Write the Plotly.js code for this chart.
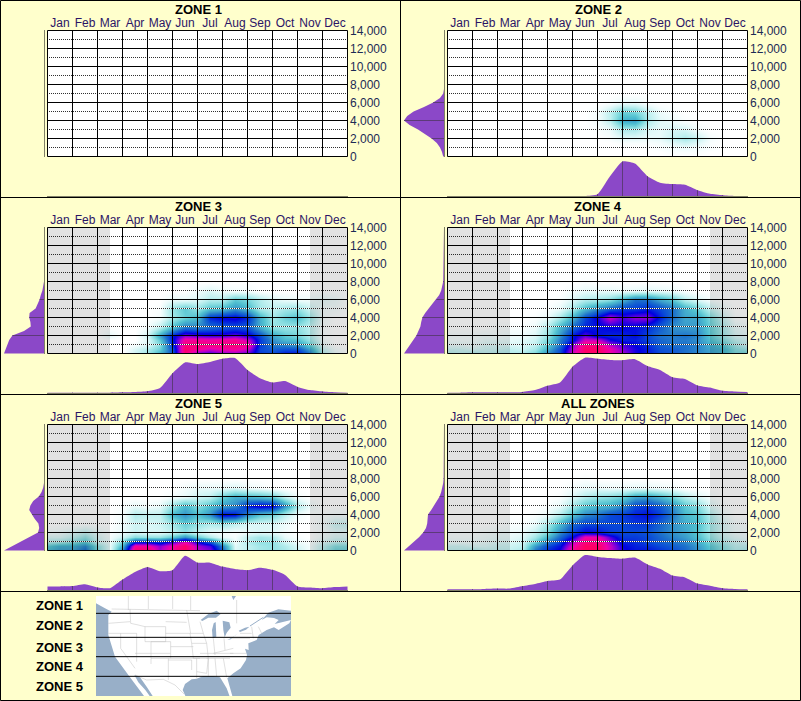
<!DOCTYPE html>
<html><head><meta charset="utf-8">
<script src="https://cdn.plot.ly/plotly-3.0.1.min.js"></script>
<style>html,body{margin:0;padding:0;background:#ffffcc}#c{width:801px;height:701px}</style>
</head><body><div id="c"></div>
<script>
const months=['Jan','Feb','Mar','Apr','May','Jun','Jul','Aug','Sep','Oct','Nov','Dec'];
const panelTitles=['ZONE 1','ZONE 2','ZONE 3','ZONE 4','ZONE 5','ALL ZONES'];
const legendZones=['ZONE 1','ZONE 2','ZONE 3','ZONE 4','ZONE 5'];
const elevTicks=[0,2000,4000,6000,8000,10000,12000,14000];
const elevTickText=['0\u00a0\u00a0\u00a0\u00a0\u00a0\u00a0\u00a0','2,000','4,000','6,000','8,000','10,000','12,000','14,000'];
const dotElev=[1000,3000,5000,7000,9000,11000,13000];
const monthEdges=[0,1,2,3,4,5,6,7,8,9,10,11,12];
const halfMonths=[0,.5,1,1.5,2,2.5,3,3.5,4,4.5,5,5.5,6,6.5,7,7.5,8,8.5,9,9.5,10,10.5,11,11.5,12];
const heatElev=[0,500,1000,1500,2000,3000,4000,5000,6000,7000,8000,9000,14000];
const sideElev=[0,500,1000,1500,2000,2500,3000,3500,4000,4500,5000,5500,6000,6500,7000,7500,8000,14000];
const winterBands=[[0,2.5],[10.5,12]];

const zone2Heat=[
[0,0,0,0,0,0,0,0,0,0,0,0,0,0,0,0,0,0,0,0,0,0,0,0,0],
[0,0,0,0,0,0,0,0,0,0,0,0,0,0,0,0,0,0,1,1,1,0,0,0,0],
[0,0,0,0,0,0,0,0,0,0,0,0,0,0,0,0,0,1,2,3,2,1,0,0,0],
[0,0,0,0,0,0,0,0,0,0,0,0,0,0,1,1,1,2,5,8,5,1,0,0,0],
[0,0,0,0,0,0,0,0,0,0,0,0,0,1,4,4,3,4,9,13,9,2,0,0,0],
[0,0,0,0,0,0,0,0,0,0,0,0,1,3,12,12,6,4,7,7,2,0,0,0,0],
[0,0,0,0,0,0,0,0,0,0,0,0,2,10,30,32,12,5,3,1,0,0,0,0,0],
[0,0,0,0,0,0,0,0,0,0,0,0,2,10,22,20,10,3,1,0,0,0,0,0,0],
[0,0,0,0,0,0,0,0,0,0,0,0,0,1,4,4,1,0,0,0,0,0,0,0,0],
[0,0,0,0,0,0,0,0,0,0,0,0,0,0,0,0,0,0,0,0,0,0,0,0,0],
[0,0,0,0,0,0,0,0,0,0,0,0,0,0,0,0,0,0,0,0,0,0,0,0,0]];
const zone3Heat=[
[0,0,0,0,0,0,0,8,15,30,48,95,65,62,68,68,65,52,50,58,58,42,12,4,0],
[0,0,0,0,0,0,0,6,12,22,50,98,88,80,85,88,78,50,45,48,48,32,8,2,0],
[0,0,0,0,0,0,0,2,6,18,55,94,94,92,92,95,88,52,40,38,35,22,4,0,0],
[0,0,0,0,0,0,0,0,5,24,58,88,88,86,88,90,78,52,36,28,26,15,2,0,0],
[0,0,0,0,0,4,0,0,8,32,58,72,68,66,66,70,64,50,32,24,20,12,1,0,0],
[0,0,0,0,0,0,0,0,2,10,26,40,38,42,46,48,46,30,16,15,16,10,1,0,0],
[0,0,0,0,0,0,0,0,0,2,14,22,28,55,60,62,54,30,14,22,26,15,2,0,0],
[0,0,0,0,0,0,0,0,0,1,16,24,16,26,28,36,28,14,10,14,16,8,2,2,0],
[0,0,0,0,0,0,0,0,0,0,4,4,6,12,12,24,20,12,6,4,3,3,4,3,0],
[0,0,0,0,0,0,0,0,0,0,0,0,3,6,3,2,2,0,0,0,0,0,0,0,0],
[0,0,0,0,0,0,0,0,0,0,0,0,0,0,0,0,0,0,0,0,0,0,0,0,0]];
const zone4Heat=[
[12,10,14,10,12,12,14,20,38,50,82,100,100,84,75,62,56,50,46,42,38,34,28,20,22],
[8,8,6,8,8,10,8,14,30,48,76,98,98,84,70,62,56,48,46,42,38,32,28,18,14],
[4,4,3,6,6,6,6,10,24,42,72,94,94,76,66,60,54,46,42,42,38,30,24,14,8],
[2,2,2,4,4,4,5,8,20,40,58,80,78,62,56,56,50,44,40,40,36,26,18,10,6],
[2,2,2,3,2,3,3,6,16,36,58,68,58,55,55,58,50,42,40,42,38,24,14,6,4],
[0,0,0,0,1,1,1,3,12,28,44,55,58,60,60,58,54,46,36,34,34,22,12,4,2],
[0,0,0,0,0,0,0,1,4,14,30,50,62,78,66,72,72,56,42,32,32,20,8,1,0],
[0,0,0,0,0,0,0,0,1,4,14,28,38,46,52,52,56,50,42,30,22,10,3,0,0],
[0,0,0,0,0,0,0,0,0,1,6,12,14,18,30,42,42,32,24,12,6,2,0,0,0],
[0,0,0,0,0,0,0,0,0,0,2,4,4,4,3,4,5,4,3,1,0,0,0,0,0],
[0,0,0,0,0,0,0,0,0,0,0,1,0,0,0,0,0,0,0,0,0,0,0,0,0]];
const zone5Heat=[
[28,34,34,44,18,4,42,98,100,74,90,100,76,72,46,6,10,14,16,14,8,2,12,22,22],
[24,30,30,38,16,4,30,88,86,72,86,98,74,66,38,5,10,14,16,12,6,2,10,18,18],
[12,14,18,24,8,3,20,56,58,54,66,82,60,48,20,3,12,16,16,8,3,1,6,10,10],
[6,6,10,16,6,2,8,18,16,16,24,36,22,12,4,2,10,14,12,4,1,0,3,6,6],
[2,3,6,10,4,1,4,8,6,6,10,16,8,4,2,1,4,6,5,2,0,0,2,4,4],
[0,0,0,1,0,0,3,8,6,8,14,22,16,12,14,10,6,6,6,3,0,0,2,8,8],
[0,0,0,0,0,0,2,12,10,10,28,36,26,36,60,58,36,24,20,10,2,0,1,2,2],
[0,0,0,0,0,0,1,4,2,4,16,28,18,26,34,38,56,62,60,36,12,3,0,0,0],
[0,0,0,0,0,0,0,0,0,0,2,4,8,10,22,30,28,26,22,10,2,0,0,0,0],
[0,0,0,0,0,0,0,0,0,0,0,2,4,4,4,6,3,2,0,0,0,0,0,0,0],
[0,0,0,0,0,0,0,0,0,0,0,0,0,0,0,0,0,0,0,0,0,0,0,0,0]];
const allHeat=[
[10,10,14,10,10,10,14,42,56,62,92,100,100,78,62,58,58,54,50,44,36,26,18,12,14],
[8,8,6,6,8,8,10,34,50,58,84,100,98,78,60,56,54,50,46,42,34,24,16,10,10],
[3,3,3,4,6,6,8,22,40,52,76,94,92,74,56,54,50,46,42,38,30,20,12,8,6],
[2,2,2,3,4,4,6,14,28,44,60,84,84,66,52,52,50,44,38,34,26,16,8,5,3],
[1,1,1,2,3,3,4,10,20,38,52,60,58,52,50,50,48,42,36,32,24,14,6,3,2],
[0,0,0,0,0,1,1,4,14,28,44,50,50,50,50,52,52,44,36,30,26,14,6,2,1],
[0,0,0,0,0,0,0,1,4,12,26,38,42,50,52,56,58,52,40,28,24,12,3,0,0],
[0,0,0,0,0,0,0,0,1,4,14,24,28,30,38,50,52,46,36,24,18,6,1,0,0],
[0,0,0,0,0,0,0,0,0,1,6,12,16,18,22,32,34,28,20,12,6,2,0,0,0],
[0,0,0,0,0,0,0,0,0,0,2,4,4,3,3,4,4,3,2,0,0,0,0,0,0],
[0,0,0,0,0,0,0,0,0,0,0,1,0,0,0,0,0,0,0,0,0,0,0,0,0]];

const zone1Month=[0,0,0,0,0,0,0,0,0,0,0,0,0,0,0,0,0,0,0,0,0,0,0,0,0];
const zone2Month=[0,0,0,0,0,0,0,0,0,0,0,0,5,55,96,90,55,37,33,31,16,6,2,0,0];
const zone3Month=[1,1,1,1,1,1,2,3,5,14,55,85,80,86,95,97,64,41,29,33,17,8,4,2,1];
const zone4Month=[1,1,2,2,2,2,3,8,20,29,73,98,95,92,91,94,75,64,44,39,21,15,6,4,3];
const zone5Month=[10,10,11,16,7,5,29,50,64,52,55,95,76,76,65,58,55,62,56,42,10,7,5,8,10];
const allMonth=[2,2,2,3,4,4,11,17,25,29,68,97,92,89,87,90,71,59,40,35,18,12,5,3,2];

const zone1Side=[0,0,0,0,0,0,0,0,0,0,0,0,0,0,0,0,0,0];
const zone2Side=[2,5,10,18,31,48,65,86,100,92,76,50,27,10,2,0,0,0];
const zone3Side=[100,96,91,87,79,50,33,34,37,36,21,15,11,8,4,2,0,0];
const zone4Side=[100,92,86,78,69,64,59,57,54,47,38,28,19,12,7,4,2,0];
const zone5Side=[100,78,55,35,15,12,14,23,30,37,34,27,13,6,2,0,0,0];
const allSide=[100,87,73,62,52,45,42,41,40,32,25,17,11,7,4,2,1,0];

const panelHeat=[null,zone2Heat,zone3Heat,zone4Heat,zone5Heat,allHeat];
const panelMonth=[zone1Month,zone2Month,zone3Month,zone4Month,zone5Month,allMonth];
const panelSide=[zone1Side,zone2Side,zone3Side,zone4Side,zone5Side,allSide];
const panelShaded=[false,false,true,true,true,true];

// map (outline traced by eye, in the map's own picture units)
const landX=[288,695,700,708,873,873,835,805,785,800,822,836,824,873,868,836,822,800,776,770,755,745,746,735,741,738,722,700,682,690,697,690,680,660,640,610,590,575,555,548,552,558,435,400,385,345,325,325,335,315,288,288];
const landY=[18,18,30,18,18,62,58,68,90,82,84,90,102,90,100,120,112,120,135,150,156,160,180,176,195,210,235,250,265,295,318,322,295,262,258,258,266,268,282,300,312,322,322,277,255,200,135,75,65,55,40,18];
const gulfX=[403,420,440,458,452,436,415,403];
const gulfY=[255,262,290,318,322,300,277,255];
const lakeSuperiorX=[602,625,650,662,648,625,607,602],lakeSuperiorY=[90,72,62,72,83,83,93,90];
const lakeMichiganX=[641,647,649,638,636,641],lakeMichiganY=[100,96,140,145,120,100];
const lakeHuronX=[668,688,692,680,674,670,668],lakeHuronY=[92,97,113,128,142,120,92];
const lakeErieX=[682,705,714,692,682],lakeErieY=[150,137,129,148,150];
const lakeOntarioX=[716,735,748,738,720,716],lakeOntarioY=[122,113,110,119,126,122];
const stLawrenceX=[750,770,790],stLawrenceY=[108,95,82];
const borderX=[385,385,null,445,445,null,518,518,null,572,572,null,710,710,null,335,600,null,325,345,390,null,390,392,415,435,null,435,497,497,435,435,null,497,560,null,497,570,null,325,410,null,410,410,null,362,362,405,null,453,453,null,405,512,null,453,512,512,453,null,505,505,null,505,575,575,null,512,600,null,512,580,null,570,610,620,575,570,null,560,572,null,600,610,null,575,580,625,620,null,590,590,620,625,null,590,590,null,625,625,null,645,650,null,670,680,null,600,700,null,620,690,null,640,645,null,672,675,null,640,700,null,690,740,null,695,750,null,720,755,null,755,760,null,775,785,null,405,440,490,505,525,552];
const borderY=[18,60,null,18,57,null,18,57,null,18,60,null,30,100,null,57,62,null,100,98,95,null,57,100,105,110,null,110,110,155,155,110,null,95,97,null,130,130,null,130,130,null,130,215,null,130,175,235,null,155,222,null,190,190,null,155,155,205,205,null,205,270,null,210,210,240,null,205,205,null,170,170,null,130,130,160,160,130,null,60,130,null,95,130,null,160,205,205,160,null,205,245,250,205,null,245,265,null,205,260,null,205,260,null,205,262,null,190,190,null,205,205,null,145,195,null,145,180,null,190,175,null,190,190,null,145,145,null,130,130,null,110,145,null,110,130,null,255,270,268,275,285,312];
const zoneDividers=[70,142,200,259];

const W=801,H=701,YELLOW='#ffffcc',PURPLE='#8b48c8',DARK='#5c3a78',EDGE='#808068';
const heatScale=[[0,'#ffffff'],[.04,'#e8fafa'],[.1,'#c0f0f0'],[.18,'#88dde0'],[.26,'#50c0d0'],[.34,'#3a9ccc'],[.42,'#1c70cc'],[.5,'#0848d8'],[.6,'#0000e0'],[.68,'#6000e0'],[.76,'#b800c8'],[.84,'#f000a8'],[1,'#ff0060']];
const dx=p=>[p[0]/W,p[1]/W], dy=p=>[1-p[1]/H,1-p[0]/H];
const traces=[],shapes=[],annotations=[];
const layout={width:W,height:H,margin:{l:0,r:0,t:0,b:0,pad:0},paper_bgcolor:YELLOW,plot_bgcolor:YELLOW,showlegend:false,hovermode:false,dragmode:false,font:{family:'"Liberation Sans",Arial,sans-serif',size:12,color:'#000'}};
const hidden={showgrid:false,zeroline:false,showticklabels:false,ticks:'',showline:false,fixedrange:true};
const X0=-0.02,X1=12.02;

let axisNo=1;
panelTitles.forEach((title,i)=>{
  const ox=(i%2)*400, oy=Math.floor(i/2)*197;
  const a=axisNo++, b=axisNo++, c=axisNo++;
  const xa='x'+a, ya='y'+a, xb='x'+b, yb='y'+b, xc='x'+c, yc='y'+c;
  layout['xaxis'+a]={...hidden,domain:dx([47+ox,348+ox]),range:[X0,X1],anchor:ya,side:'top',tickmode:'array',tickvals:months.map((m,k)=>k+.5),ticktext:months,showticklabels:true,tickfont:{size:12,color:'#2b1466'}};
  layout['yaxis'+a]={...hidden,domain:dy([30+oy,157+oy]),range:[-55.6,14055.6],anchor:xa,side:'right',tickmode:'array',tickvals:elevTicks,ticktext:elevTickText,showticklabels:true,ticklabelstandoff:1,tickfont:{size:12,color:'#1c2a55'}};
  layout['xaxis'+b]={...hidden,domain:dx([47+ox,348+ox]),range:[X0,X1],anchor:yb,showline:true,linecolor:EDGE,linewidth:1};
  layout['yaxis'+b]={...hidden,domain:dy([160+oy,196+oy]),range:[0,100],anchor:xb};
  layout['xaxis'+c]={...hidden,domain:dx([4+ox,44+ox]),range:[100,0],anchor:yc};
  layout['yaxis'+c]={...hidden,domain:dy([30+oy,157+oy]),range:[-55.6,14055.6],anchor:xc,side:'right',showline:true,linecolor:EDGE,linewidth:1};

  shapes.push({type:'rect',xref:xa,yref:ya,x0:X0,x1:X1,y0:-55.6,y1:14055.6,fillcolor:'#ffffff',line:{width:0},layer:'below'});
  if(panelHeat[i]){
    const blank=halfMonths.map(()=>0);
    traces.push({type:'heatmap',x:halfMonths,y:heatElev,z:panelHeat[i].concat([blank,blank]),xaxis:xa,yaxis:ya,zmin:0,zmax:100,zsmooth:'best',colorscale:heatScale,showscale:false,hoverinfo:'skip'});
  }
  const gx=[],gy=[],dotX=[],dotY=[];
  monthEdges.forEach(m=>{gx.push(m,m,null);gy.push(0,14000,null);});
  elevTicks.forEach(e=>{gx.push(0,12,null);gy.push(e,e,null);});
  dotElev.forEach(e=>{dotX.push(X0,X1,null);dotY.push(e,e,null);});
  traces.push({type:'scatter',mode:'lines',x:dotX,y:dotY,xaxis:xa,yaxis:ya,line:{color:'#ffffff',width:1},hoverinfo:'skip'});
  traces.push({type:'scatter',mode:'lines',x:dotX,y:dotY,xaxis:xa,yaxis:ya,line:{color:'#303030',width:1,dash:'1px,1px'},hoverinfo:'skip'});
  traces.push({type:'scatter',mode:'lines',x:gx,y:gy,xaxis:xa,yaxis:ya,line:{color:'#000000',width:1},hoverinfo:'skip'});
  if(panelShaded[i]) winterBands.forEach(w=>shapes.push({type:'rect',xref:xa,yref:ya,x0:w[0],x1:w[1],y0:0,y1:14000,fillcolor:'rgba(0,0,0,0.114)',line:{width:0},layer:'above'}));

  const mv=panelMonth[i], sv=panelSide[i];
  traces.push({type:'scatter',mode:'lines',x:halfMonths,y:mv,xaxis:xb,yaxis:yb,fill:'tozeroy',fillcolor:PURPLE,line:{color:PURPLE,width:0,shape:'spline',smoothing:.5},hoverinfo:'skip'});
  const mlx=[],mly=[];
  monthEdges.slice(1,-1).forEach(m=>{const v=mv[halfMonths.indexOf(m)]; if(v>0){mlx.push(m,m,null);mly.push(0,v,null);}});
  traces.push({type:'scatter',mode:'lines',x:mlx,y:mly,xaxis:xb,yaxis:yb,line:{color:DARK,width:1},hoverinfo:'skip'});
  traces.push({type:'scatter',mode:'lines',x:sv,y:sideElev,xaxis:xc,yaxis:yc,fill:'tozerox',fillcolor:PURPLE,line:{color:PURPLE,width:0},hoverinfo:'skip'});
  const slx=[],sly=[];
  elevTicks.slice(1).forEach(e=>{const k=sideElev.indexOf(e); if(k>=0&&sv[k]>0){slx.push(0,sv[k],null);sly.push(e,e,null);}});
  traces.push({type:'scatter',mode:'lines',x:slx,y:sly,xaxis:xc,yaxis:yc,line:{color:DARK,width:1},hoverinfo:'skip'});
  annotations.push({text:'<b>'+title+'</b>',xref:'paper',yref:'paper',x:(198+ox)/W,y:1-(9+oy)/H,xanchor:'center',yanchor:'middle',showarrow:false,font:{size:13,color:'#000'}});
});

const m=axisNo++, mx='x'+m, my='y'+m;
layout['xaxis'+m]={...hidden,domain:dx([96,291]),range:[288,873],anchor:my};
layout['yaxis'+m]={...hidden,domain:dy([596,696]),range:[318,18],anchor:mx};
const addFill=(xs,ys,color)=>traces.push({type:'scatter',mode:'lines',x:xs,y:ys,xaxis:mx,yaxis:my,fill:'toself',fillcolor:color,line:{width:0,color:color},hoverinfo:'skip'});
const OCEAN='#98afc8';
shapes.push({type:'rect',xref:mx,yref:my,x0:288,x1:873,y0:18,y1:318,fillcolor:OCEAN,line:{width:0},layer:'below'});
addFill(landX,landY,'#ffffff');
addFill(gulfX,gulfY,OCEAN);
traces.push({type:'scatter',mode:'lines',x:borderX,y:borderY,xaxis:mx,yaxis:my,line:{color:'rgba(190,190,190,0.6)',width:0.8},hoverinfo:'skip'});
[[lakeSuperiorX,lakeSuperiorY],[lakeMichiganX,lakeMichiganY],[lakeHuronX,lakeHuronY],[lakeErieX,lakeErieY],[lakeOntarioX,lakeOntarioY]].forEach(l=>addFill(l[0],l[1],OCEAN));
traces.push({type:'scatter',mode:'lines',x:stLawrenceX,y:stLawrenceY,xaxis:mx,yaxis:my,line:{color:OCEAN,width:1},hoverinfo:'skip'});
zoneDividers.forEach(d=>shapes.push({type:'line',xref:mx,yref:my,x0:288,x1:873,y0:d,y1:d,line:{color:'#000',width:1},layer:'above'}));

const legendY=[605,625,647,666.5,686.5];
legendZones.forEach((z,k)=>annotations.push({text:'<b>'+z+'</b>',xref:'paper',yref:'paper',x:34/W,y:1-legendY[k]/H,xanchor:'left',yanchor:'middle',showarrow:false,font:{size:13,color:'#000'}}));

const frameX=400.5, frameY=[197.5,394.5,591.5];
shapes.push({type:'rect',xref:'paper',yref:'paper',x0:.5/W,x1:800.5/W,y0:1-.5/H,y1:1-700.5/H,line:{color:'#000',width:1},layer:'above'});
shapes.push({type:'line',xref:'paper',yref:'paper',x0:frameX/W,x1:frameX/W,y0:1,y1:1-frameY[2]/H,line:{color:'#000',width:1},layer:'above'});
frameY.forEach(f=>shapes.push({type:'line',xref:'paper',yref:'paper',x0:0,x1:1,y0:1-f/H,y1:1-f/H,line:{color:'#000',width:1},layer:'above'}));

layout.shapes=shapes; layout.annotations=annotations;
Plotly.newPlot('c',traces,layout,{displayModeBar:false,staticPlot:true});
</script></body></html>
